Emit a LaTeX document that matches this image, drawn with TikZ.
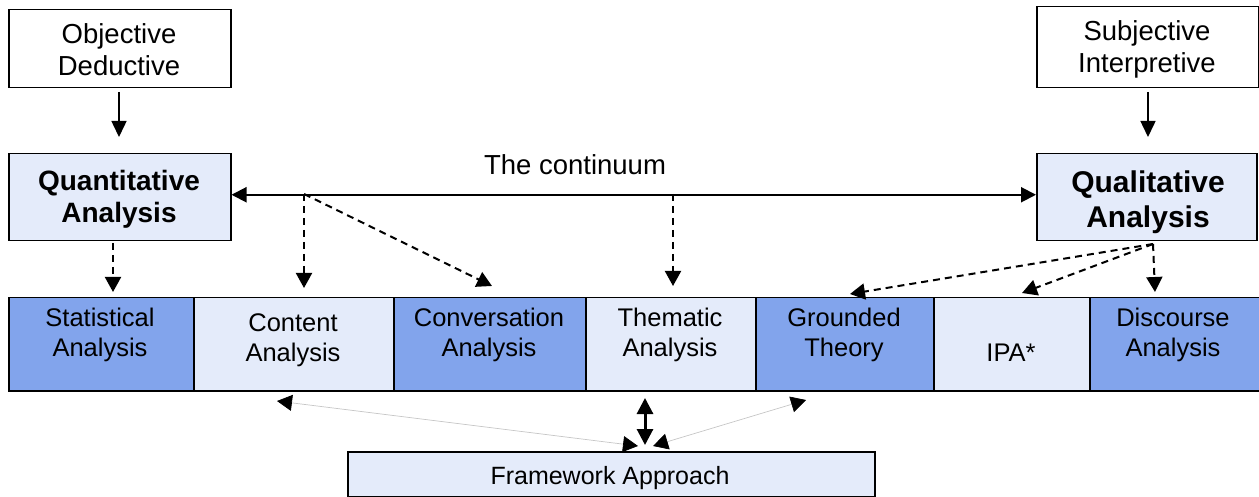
\documentclass[tikz,border=0pt]{standalone}
\usepackage{fontspec}
\setmainfont{Liberation Sans}
\usetikzlibrary{arrows.meta}
\definecolor{lightfill}{RGB}{228,235,250}
\definecolor{darkfill}{RGB}{130,164,236}
\tikzset{
  box/.style={draw=black, line width=1.5pt, inner sep=0, anchor=north west},
  wbox/.style={box, fill=white},
  lbox/.style={box, fill=lightfill},
  dbox/.style={box, fill=darkfill},
  txt/.style={align=center, inner sep=0},
  rowtxt/.style={txt, font=\fontsize{25.5}{29.5}\selectfont},
  toptxt/.style={txt, font=\fontsize{27.5}{32}\selectfont},
  head/.style={Triangle[length=16pt,width=16pt]},
  solidarrow/.style={line width=1.5pt, -{Triangle[length=16pt,width=15pt]}},
  dasharrow/.style={line width=2pt, dash pattern=on 7pt off 5pt, -{Triangle[length=15pt,width=16pt]}},
  grayarrow/.style={draw=gray!45, line width=0.7pt, {Triangle[length=15pt,width=16pt,fill=black,color=black]}-{Triangle[length=15pt,width=16pt,fill=black,color=black]}},
}
\begin{document}
\begin{tikzpicture}[x=1pt,y=-1pt]
\useasboundingbox (0,0) rectangle (1259,497);
% top boxes
\node[wbox, minimum width=222pt, minimum height=78pt] (od) at (8,9) {};
\node[toptxt] (odt) at (119,50) {Objective\\Deductive};
\node[wbox, minimum width=222pt, minimum height=81pt] (si) at (1036,6) {};
\node[toptxt] (sit) at (1147,49) {Subjective\\Interpretive};
% analysis boxes
\node[lbox, minimum width=222pt, minimum height=87pt] (quant) at (8,153) {};
\node[txt, font=\fontsize{28}{32}\selectfont\bfseries] (quantt) at (119,199) {Quantitative\\Analysis};
\node[lbox, minimum width=220pt, minimum height=87pt] (qual) at (1036,153) {};
\node[txt, font=\fontsize{30}{35}\selectfont\bfseries] (qualt) at (1148,202) {Qualitative\\Analysis};
% continuum
\node[txt, font=\fontsize{27.5}{32}\selectfont] (cont) at (575,165) {The continuum};
% row
\node[dbox, minimum width=185pt, minimum height=93pt] (stat) at (8,297) {};
\node[lbox, minimum width=200pt, minimum height=93pt] (content) at (193,297) {};
\node[dbox, minimum width=192pt, minimum height=93pt] (conv) at (393,297) {};
\node[lbox, minimum width=170pt, minimum height=93pt] (them) at (585,297) {};
\node[dbox, minimum width=178pt, minimum height=93pt] (ground) at (755,297) {};
\node[lbox, minimum width=156pt, minimum height=93pt] (ipa) at (933,297) {};
\node[dbox, minimum width=170pt, minimum height=93pt] (disc) at (1089,297) {};
\node[rowtxt] (statt) at (100,335) {Statistical\\Analysis};
\node[rowtxt] (contentt) at (293,340) {Content\\Analysis};
\node[rowtxt] (convt) at (489,335) {Conversation\\Analysis};
\node[rowtxt] (themt) at (670,335) {Thematic\\Analysis};
\node[rowtxt] (groundt) at (844,335) {Grounded\\Theory};
\node[rowtxt] (ipat) at (1011,353) {IPA*};
\node[rowtxt] (disct) at (1173,335) {Discourse\\Analysis};
% framework
\node[lbox, minimum width=527pt, minimum height=45pt] (fw) at (347,451) {};
\node[txt, font=\fontsize{25}{29}\selectfont] (fwt) at (610,478) {Framework Approach};
% coordinates
\coordinate (os) at (119,92);
\coordinate (oe) at (119,137);
\coordinate (ss) at (1148,92);
\coordinate (se) at (1148,137);
\coordinate (c1) at (304,194);
\coordinate (c2) at (673,194);
\coordinate (qs) at (1153,244);
\coordinate (qa) at (113,243);
\coordinate (ta) at (113,292);
\coordinate (tc) at (304,288);
\coordinate (tv) at (492,286);
\coordinate (tt) at (673,286);
\coordinate (tg) at (850,294);
\coordinate (ti) at (1022,293);
\coordinate (td) at (1155,292);
\coordinate (fl) at (638,446);
\coordinate (fr) at (653,446);
\coordinate (cl) at (277,401);
\coordinate (gr) at (806,400);
\coordinate (mt) at (645,398);
\coordinate (mb) at (645,445);
% connectors
\draw[solidarrow] (os) -- (oe);
\draw[solidarrow] (ss) -- (se);
\draw[line width=2pt, {Triangle[length=15pt,width=15pt]}-{Triangle[length=15pt,width=15pt]}] ([yshift=2.5pt]quant.east) -- ([yshift=2.5pt]qual.west);
\draw[dasharrow] (qa) -- (ta);
\draw[dasharrow] (c1) -- (tc);
\draw[dasharrow] (c1) -- (tv);
\draw[dasharrow] (c2) -- (tt);
\draw[dasharrow] (qs) -- (tg);
\draw[dasharrow] (qs) -- (ti);
\draw[dasharrow] (qs) -- (td);
\draw[grayarrow] (cl) -- (fl);
\draw[grayarrow] (fr) -- (gr);
\draw[line width=3pt, {Triangle[length=16pt,width=16pt]}-{Triangle[length=16pt,width=16pt]}] (mt) -- (mb);
\end{tikzpicture}
\end{document}
